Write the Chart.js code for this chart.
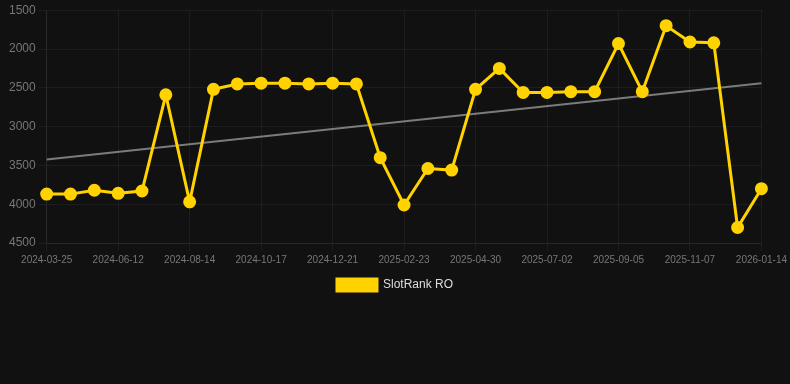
<!DOCTYPE html>
<html>
<head>
<meta charset="utf-8">
<script src="https://cdn.jsdelivr.net/npm/chart.js@4"></script>
<style>
  html, body { margin: 0; padding: 0; background: #111111; }
  #wrap { width: 790px; height: 301px; position: relative; }
</style>
</head>
<body>
<div id="wrap"><canvas id="myChart"></canvas></div>
<script>
let labels = [
    '2024-03-25', '2024-04-20', '2024-05-17', '2024-06-12', '2024-07-03', '2024-07-24',
    '2024-08-14', '2024-09-04', '2024-09-25', '2024-10-17', '2024-11-08', '2024-11-30',
    '2024-12-21', '2025-01-11', '2025-02-01', '2025-02-23', '2025-03-16', '2025-04-08',
    '2025-04-30', '2025-05-21', '2025-06-11', '2025-07-02', '2025-07-24', '2025-08-14',
    '2025-09-05', '2025-09-26', '2025-10-17', '2025-11-07', '2025-11-30', '2025-12-22',
    '2026-01-14'
];

let rank_values = [
    3870, 3870, 3820, 3860, 3830, 2590, 3970, 2520, 2450, 2440, 2440,
    2450, 2440, 2450, 3400, 4010, 3540, 3560, 2520, 2250, 2560, 2560,
    2550, 2550, 1930, 2550, 1700, 1910, 1920, 4300, 3800
];

// trend line, only the two ends are set
let trend_values = labels.map(() => null);
trend_values[0] = 3425;
trend_values[labels.length - 1] = 2440;

let config = {
    type: 'line',
    data: {
        labels: labels,
        datasets: [{
            label: 'SlotRank RO',
            data: rank_values,
            borderColor: 'rgb(255, 210, 0)',
            backgroundColor: 'rgb(255, 210, 0)',
            borderWidth: 3,
            pointRadius: 5,
            pointHoverRadius: 6,
            tension: 0
        },
        {
            label: 'trend',
            data: trend_values,
            borderColor: 'rgba(150, 150, 150, 0.8)',
            borderWidth: 2,
            pointRadius: 0,
            spanGaps: true
        }]
    },
    options: {
        responsive: true,
        maintainAspectRatio: false,
        animation: false,
        plugins: {
            legend: {
                position: 'bottom',
                labels: {
                    color: '#dddddd',
                    font: { family: 'Arial, "Liberation Sans", sans-serif', size: 12 },
                    boxWidth: 40,
                    boxHeight: 12,
                    filter: item => item.text !== 'trend'
                }
            },
            tooltip: { enabled: false }
        },
        scales: {
            x: {
                grid: { color: 'rgba(255,255,255,0.05)' },
                border: { color: 'rgba(255,255,255,0.05)' },
                ticks: {
                    color: '#777777',
                    maxRotation: 0,
                    autoSkip: true,
                    font: { family: 'Arial, "Liberation Sans", sans-serif', size: 10 }
                }
            },
            y: {
                reverse: true,
                min: 1500,
                max: 4500,
                afterFit: scale => { scale.width += 6; },
                grid: { color: 'rgba(255,255,255,0.05)' },
                border: { color: 'rgba(255,255,255,0.05)' },
                ticks: {
                    stepSize: 500,
                    color: '#777777',
                    font: { family: 'Arial, "Liberation Sans", sans-serif', size: 12 },
                    callback: value => String(value)
                }
            }
        }
    }
};

let myChart = new Chart(document.getElementById('myChart'), config);
</script>
</body>
</html>
